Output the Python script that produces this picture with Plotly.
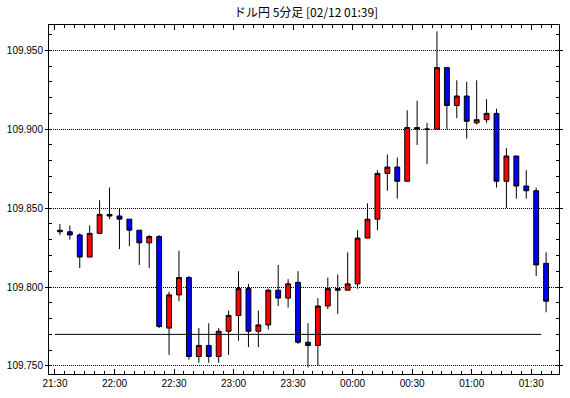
import pandas as pd
import plotly.graph_objects as go

times = [
    "21:30", "21:35", "21:40", "21:45", "21:50", "21:55",
    "22:00", "22:05", "22:10", "22:15", "22:20", "22:25",
    "22:30", "22:35", "22:40", "22:45", "22:50", "22:55",
    "23:00", "23:05", "23:10", "23:15", "23:20", "23:25",
    "23:30", "23:35", "23:40", "23:45", "23:50", "23:55",
    "00:00", "00:05", "00:10", "00:15", "00:20", "00:25",
    "00:30", "00:35", "00:40", "00:45", "00:50", "00:55",
    "01:00", "01:05", "01:10", "01:15", "01:20", "01:25",
    "01:30", "01:35",
]
opens = [
    109.836, 109.835, 109.833, 109.819, 109.834, 109.846,
    109.845, 109.843, 109.836, 109.828, 109.832, 109.774,
    109.795, 109.806, 109.756, 109.763, 109.756, 109.772,
    109.782, 109.799, 109.772, 109.776, 109.798, 109.793,
    109.803, 109.765, 109.763, 109.788, 109.799, 109.798,
    109.802, 109.831, 109.843, 109.872, 109.876, 109.867,
    109.901, 109.900, 109.900, 109.939, 109.915, 109.921,
    109.904, 109.906, 109.910, 109.867, 109.883, 109.864,
    109.861, 109.815,
]
highs = [
    109.840, 109.839, 109.834, 109.839, 109.855, 109.863,
    109.850, 109.843, 109.836, 109.833, 109.833, 109.797,
    109.823, 109.807, 109.774, 109.777, 109.774, 109.785,
    109.810, 109.802, 109.785, 109.799, 109.814, 109.805,
    109.810, 109.777, 109.793, 109.806, 109.808, 109.822,
    109.836, 109.853, 109.874, 109.884, 109.882, 109.912,
    109.918, 109.904, 109.962, 109.939, 109.931, 109.930,
    109.931, 109.919, 109.913, 109.888, 109.883, 109.874,
    109.863, 109.822,
]
lows = [
    109.833, 109.830, 109.812, 109.819, 109.834, 109.843,
    109.824, 109.826, 109.814, 109.812, 109.774, 109.757,
    109.791, 109.754, 109.752, 109.752, 109.752, 109.757,
    109.766, 109.762, 109.762, 109.773, 109.788, 109.787,
    109.764, 109.749, 109.750, 109.786, 109.783, 109.798,
    109.799, 109.831, 109.836, 109.861, 109.856, 109.867,
    109.890, 109.878, 109.900, 109.900, 109.907, 109.894,
    109.903, 109.904, 109.863, 109.850, 109.856, 109.856,
    109.807, 109.784,
]
closes = [
    109.835, 109.833, 109.819, 109.834, 109.846, 109.845,
    109.843, 109.836, 109.828, 109.832, 109.775, 109.795,
    109.806, 109.756, 109.763, 109.756, 109.772, 109.782,
    109.799, 109.772, 109.776, 109.798, 109.793, 109.802,
    109.765, 109.763, 109.788, 109.799, 109.798, 109.802,
    109.831, 109.843, 109.872, 109.876, 109.867, 109.901,
    109.900, 109.900, 109.939, 109.915, 109.921, 109.905,
    109.906, 109.910, 109.867, 109.883, 109.864, 109.861,
    109.814, 109.791,
]
y_ticks = [109.750, 109.800, 109.850, 109.900, 109.950]
level = 109.770
title_text = "ドル円 5分足 [02/12 01:39]"

# build timestamps: evening of 02/11 rolls into 02/12 after midnight
stamps = []
for t in times:
    day = "2024-02-11" if t >= "12:00" else "2024-02-12"
    stamps.append(pd.Timestamp(f"{day} {t}"))
x_pos = [s + pd.Timedelta(minutes=2.5) for s in stamps]

fig = go.Figure()
fig.add_trace(go.Scatter(
    x=[stamps[0], stamps[-1]], y=[level, level], mode="lines",
    line=dict(color="black", width=1), hoverinfo="skip", showlegend=False,
))
fig.add_trace(go.Candlestick(
    x=x_pos, open=opens, high=highs, low=lows, close=closes,
    increasing=dict(line=dict(color="black", width=1), fillcolor="#ff0000"),
    decreasing=dict(line=dict(color="black", width=1), fillcolor="#0000ff"),
    showlegend=False,
))

x0 = pd.Timestamp("2024-02-11 21:27")
x1 = pd.Timestamp("2024-02-12 01:44")

fig.update_layout(
    width=570, height=398,
    margin=dict(l=49, r=7, t=25, b=24),
    paper_bgcolor="white", plot_bgcolor="white",
    showlegend=False,
    title=dict(text=title_text, x=0.537, xanchor="center", y=1 - 12.8 / 398,
               yanchor="middle", font=dict(family="Noto Sans CJK JP", size=12, color="black")),
    font=dict(family="Liberation Sans", size=10, color="black"),
)
fig.update_xaxes(
    type="date", range=[x0, x1], rangeslider=dict(visible=False),
    showgrid=False, zeroline=False,
    showline=True, linecolor="black", linewidth=1, mirror="ticks",
    tickmode="linear", tick0="2024-02-11 21:30", dtick=30 * 60 * 1000,
    tickformat="%H:%M", ticks="inside", ticklen=5, tickcolor="black",
    minor=dict(tick0="2024-02-11 21:30", dtick=5 * 60 * 1000, ticks="inside",
               ticklen=3, tickcolor="black", showgrid=False),
    tickfont=dict(size=10, color="black"),
)
fig.update_yaxes(
    range=[109.7449, 109.966],
    tickmode="array", tickvals=y_ticks, tickformat=".3f",
    ticks="outside", ticklen=3, tickcolor="black",
    showgrid=True, gridcolor="black", gridwidth=1, griddash="1px,1px",
    zeroline=False,
    showline=True, linecolor="black", linewidth=1, mirror="ticks",
    minor=dict(tick0=109.75, dtick=0.01, ticks="inside", ticklen=3,
               tickcolor="black", showgrid=False),
    tickfont=dict(size=10, color="black"),
)

fig.write_html("out.html", config={"displayModeBar": False},
               post_script="document.body.style.margin='0px';")
